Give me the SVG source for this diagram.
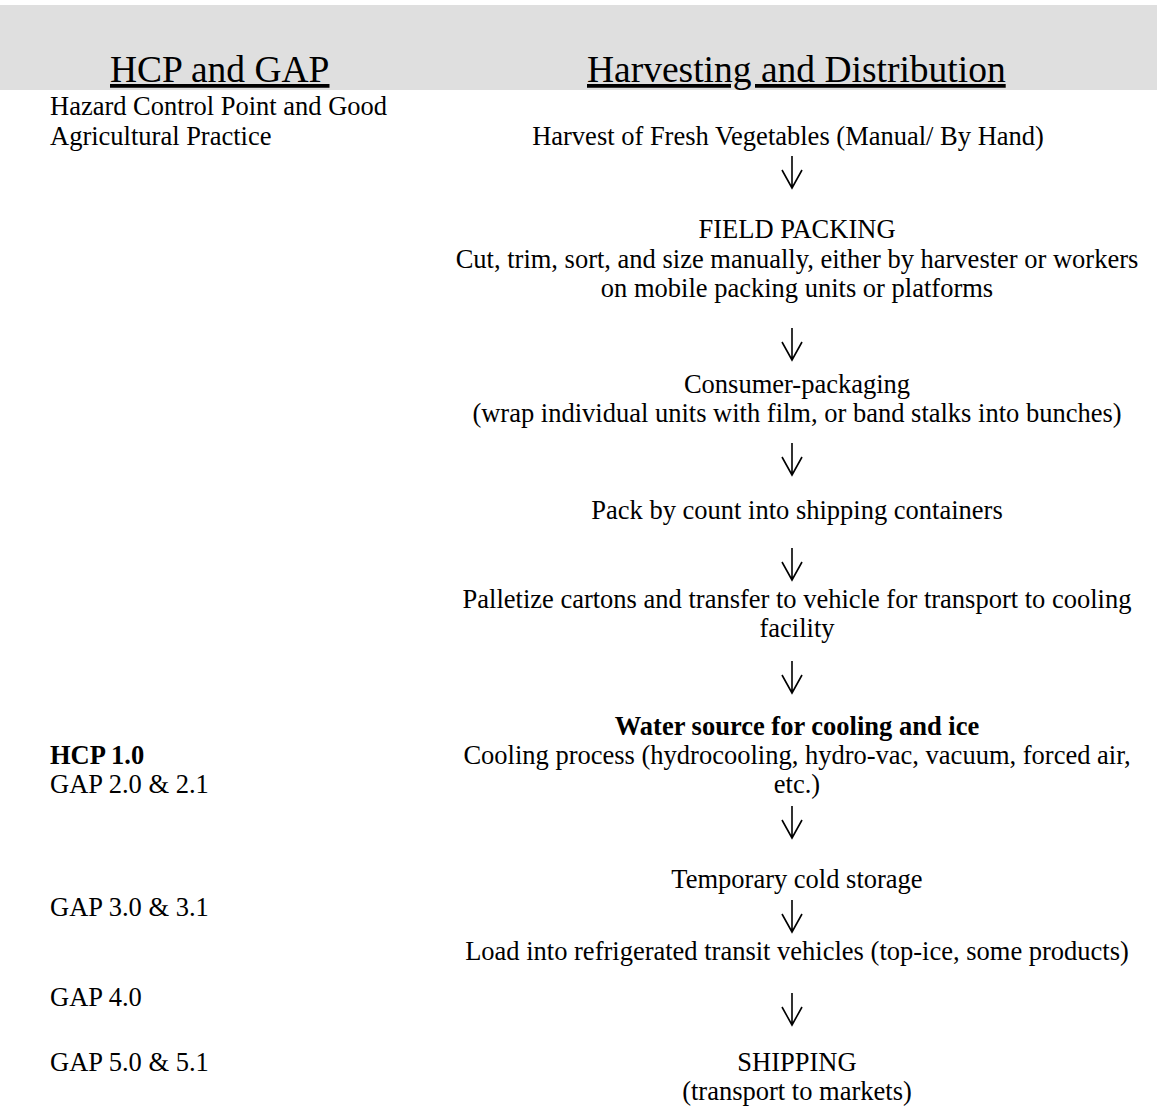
<svg xmlns="http://www.w3.org/2000/svg" width="1157" height="1107" viewBox="0 0 1157 1107">
<style>
text{font-family:"Liberation Serif","Times New Roman",serif;fill:#000;font-size:26.5px}
.h{font-size:37.5px;text-decoration:underline}
.c{text-anchor:middle}
.b{font-weight:bold}
.arr{stroke:#000;stroke-width:1.6;fill:none}
</style>
<rect x="0" y="5" width="1157" height="85" fill="#dfdfdf"/>
<g id="header">
<text class="h" x="110" y="82">HCP and GAP</text>
<text class="h" x="587" y="82">Harvesting and Distribution</text>
</g>
<g id="legend">
<text x="50" y="115">Hazard Control Point and Good</text>
<text x="50" y="145">Agricultural Practice</text>
</g>
<g id="hcp1"><text class="b" x="50" y="764">HCP 1.0</text><text x="50" y="793">GAP 2.0 &amp; 2.1</text></g>
<g id="gap3"><text x="50" y="916">GAP 3.0 &amp; 3.1</text></g>
<g id="gap4"><text x="50" y="1006">GAP 4.0</text></g>
<g id="gap5"><text x="50" y="1071">GAP 5.0 &amp; 5.1</text></g>
<g id="step1"><text class="c" x="788" y="145">Harvest of Fresh Vegetables (Manual/ By Hand)</text></g>
<g id="step2"><text class="c" x="797" y="238">FIELD PACKING</text><text class="c" x="797" y="268">Cut, trim, sort, and size manually, either by harvester or workers</text><text class="c" x="797" y="297">on mobile packing units or platforms</text></g>
<g id="step3"><text class="c" x="797" y="393">Consumer-packaging</text><text class="c" x="797" y="422">(wrap individual units with film, or band stalks into bunches)</text></g>
<g id="step4"><text class="c" x="797" y="519">Pack by count into shipping containers</text></g>
<g id="step5"><text class="c" x="797" y="608">Palletize cartons and transfer to vehicle for transport to cooling</text><text class="c" x="797" y="637">facility</text></g>
<g id="step6"><text class="c b" x="797" y="735">Water source for cooling and ice</text><text class="c" x="797" y="764">Cooling process (hydrocooling, hydro-vac, vacuum, forced air,</text><text class="c" x="797" y="793">etc.)</text></g>
<g id="step7"><text class="c" x="797" y="888">Temporary cold storage</text></g>
<g id="step8"><text class="c" x="797" y="960">Load into refrigerated transit vehicles (top-ice, some products)</text></g>
<g id="step9"><text class="c" x="797" y="1071">SHIPPING</text><text class="c" x="797" y="1100">(transport to markets)</text></g>
<g id="connectors" class="arr">
<path d="M792 156V188M782 170L792 188L802 170"/>
<path d="M792 328V360M782 342L792 360L802 342"/>
<path d="M792 443V475M782 457L792 475L802 457"/>
<path d="M792 548V580M782 562L792 580L802 562"/>
<path d="M792 661V693M782 675L792 693L802 675"/>
<path d="M792 806V838M782 820L792 838L802 820"/>
<path d="M792 900V932M782 914L792 932L802 914"/>
<path d="M792 993V1025M782 1007L792 1025L802 1007"/>
</g>
</svg>
